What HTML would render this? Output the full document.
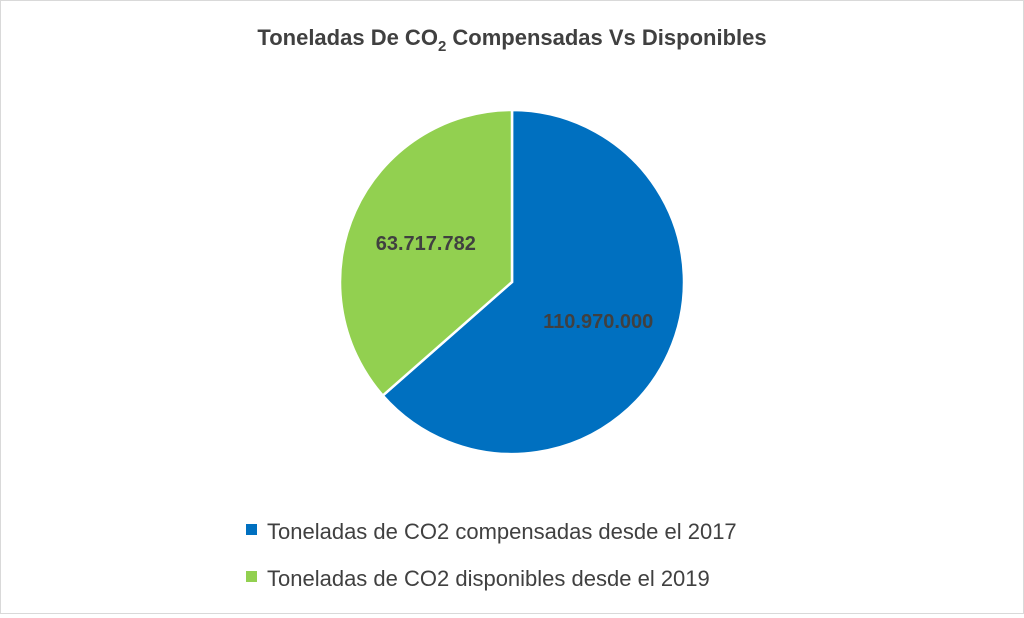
<!DOCTYPE html>
<html><head><meta charset="utf-8"><style>
html,body{margin:0;padding:0;background:#fff;}
#wrap{position:relative;width:1022px;height:612px;border:1px solid #d9d9d9;font-family:"Liberation Sans",sans-serif;}
</style></head><body>
<div id="wrap">
<svg width="1022" height="612" xmlns="http://www.w3.org/2000/svg" id="svg">
<text x="511" y="44" text-anchor="middle" font-size="22" font-weight="bold" fill="#404040">Toneladas De CO<tspan font-size="15" dy="6">2</tspan><tspan dy="-6"> Compensadas Vs Disponibles</tspan></text>
<g id="slices"></g>
<g id="labels"></g>
<g>
<rect x="245" y="523" width="11" height="11" fill="#0070c0"/>
<text x="266" y="538" font-size="22" fill="#404040">Toneladas de CO2 compensadas desde el 2017</text>
<rect x="245" y="570" width="11" height="11" fill="#92d050"/>
<text x="266" y="585" font-size="22" fill="#404040">Toneladas de CO2 disponibles desde el 2019</text>
</g>
</svg>
</div>
<script>
const categories=["Toneladas de CO2 compensadas desde el 2017","Toneladas de CO2 disponibles desde el 2019"];
const values=[110970000,63717782];
const valueLabels=["110.970.000","63.717.782"];
const colors=["#0070c0","#92d050"];
const cx=511,cy=281,r=172;
const total=values.reduce((a,b)=>a+b,0);
const ns="http://www.w3.org/2000/svg";
const sg=document.getElementById('slices'),lg=document.getElementById('labels');
let a0=0;
function pt(a,rr){return [cx+rr*Math.sin(a),cy-rr*Math.cos(a)];}
values.forEach((v,i)=>{
 const a1=a0+v/total*2*Math.PI;
 const p0=pt(a0,r),p1=pt(a1,r);
 const large=(a1-a0)>Math.PI?1:0;
 const p=document.createElementNS(ns,'path');
 p.setAttribute('d',`M${cx},${cy} L${p0[0]},${p0[1]} A${r},${r} 0 ${large} 1 ${p1[0]},${p1[1]} Z`);
 p.setAttribute('fill',colors[i]);p.setAttribute('stroke','#fff');p.setAttribute('stroke-width','2.5');
 
 
 sg.appendChild(p);
 const mid=(a0+a1)/2,lp=pt(mid,r*0.55);
 const t=document.createElementNS(ns,'text');
 t.setAttribute('x',lp[0]);t.setAttribute('y',lp[1]+7);t.setAttribute('text-anchor','middle');
 t.setAttribute('font-size','20');t.setAttribute('font-weight','bold');t.setAttribute('fill','#404040');
 t.textContent=valueLabels[i];
 
 
 lg.appendChild(t);
 a0=a1;
});
</script>
</body></html>
